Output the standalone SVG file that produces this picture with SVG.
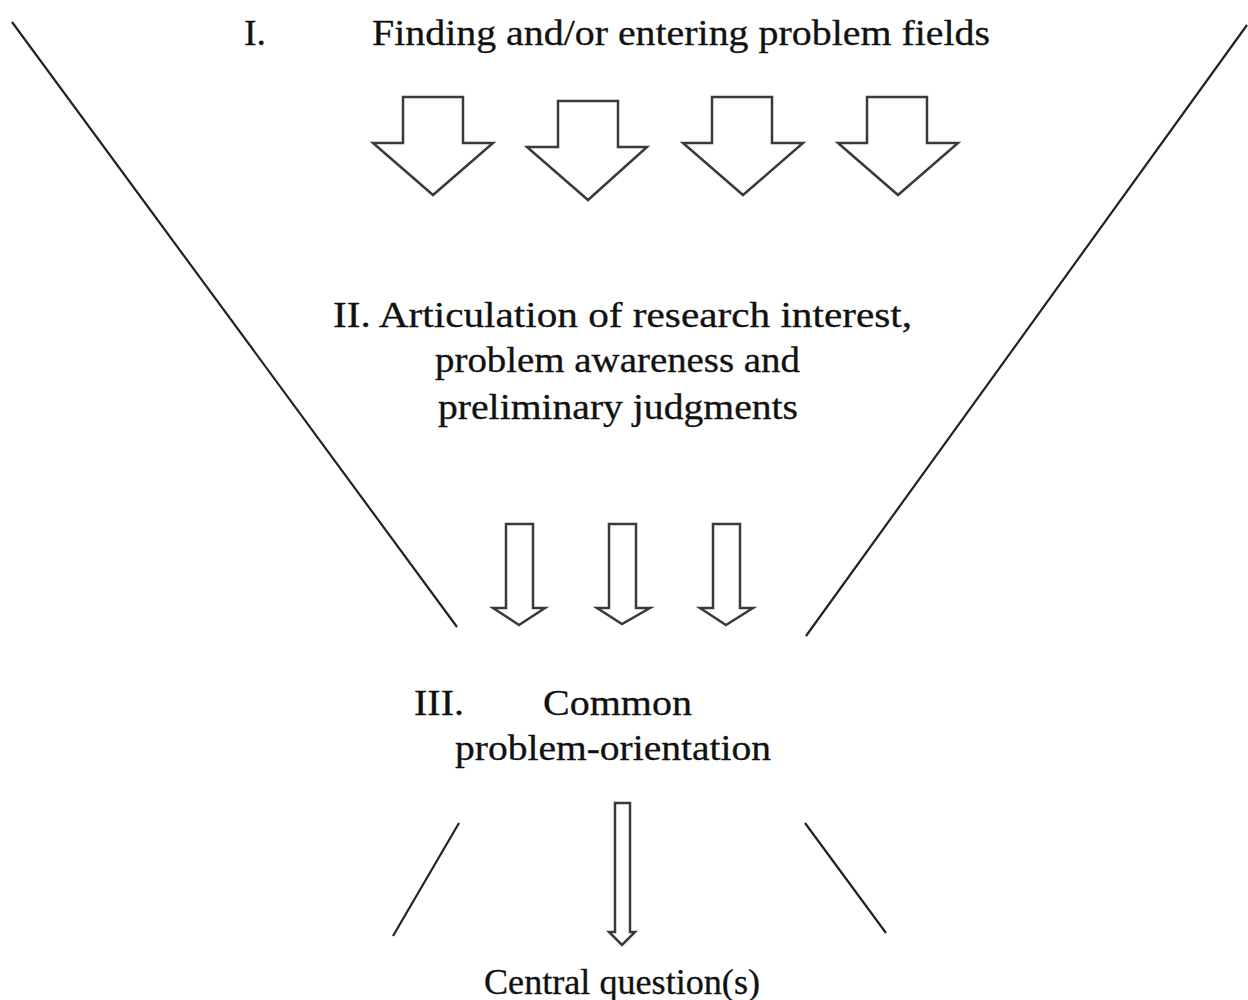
<svg xmlns="http://www.w3.org/2000/svg" width="1248" height="1000" viewBox="0 0 1248 1000">
<style>
.t{font-family:"Liberation Serif","Times New Roman",serif;font-size:35px;fill:#111;stroke:#111;stroke-width:0.3}
.arr{fill:#fff;stroke:#3a3a3a;stroke-width:2.5;stroke-linejoin:miter}
.ln{stroke:#222;stroke-width:2.2;fill:none}
</style>
<rect width="1248" height="1000" fill="#fff"/>
<g id="funnel-lines">
<line class="ln" x1="12" y1="22" x2="457" y2="627"/>
<line class="ln" x1="1247" y1="25" x2="806" y2="636"/>
<line class="ln" x1="459" y1="823" x2="393" y2="936"/>
<line class="ln" x1="805" y1="823" x2="886" y2="933"/>
</g>
<g id="stage1">
<text class="t" x="244" y="45" textLength="22" lengthAdjust="spacingAndGlyphs">I.</text>
<text class="t" x="372" y="45" textLength="618" lengthAdjust="spacingAndGlyphs">Finding and/or entering problem fields</text>
</g>
<g id="stage2">
<text class="t" x="333" y="327" textLength="579" lengthAdjust="spacingAndGlyphs">II. Articulation of research interest,</text>
<text class="t" x="435" y="372" textLength="365" lengthAdjust="spacingAndGlyphs">problem awareness and</text>
<text class="t" x="438" y="419" textLength="360" lengthAdjust="spacingAndGlyphs">preliminary judgments</text>
</g>
<g id="stage3">
<text class="t" x="414" y="715" textLength="50" lengthAdjust="spacingAndGlyphs">III.</text>
<text class="t" x="543" y="715" textLength="149" lengthAdjust="spacingAndGlyphs">Common</text>
<text class="t" x="455" y="760" textLength="316" lengthAdjust="spacingAndGlyphs">problem-orientation</text>
</g>
<g id="result">
<text class="t" x="484" y="994" textLength="276" lengthAdjust="spacingAndGlyphs">Central question(s)</text>
</g>
<g id="connectors">
<polygon class="arr" points="403,97 463,97 463,143 493,143 433,195 373,143 403,143"/>
<polygon class="arr" points="558,101 618,101 618,147 647,147 588,200 527,147 558,147"/>
<polygon class="arr" points="712,97 772,97 772,143 803,143 743,195 683,143 712,143"/>
<polygon class="arr" points="867,97 927,97 927,143 958,143 898,195 838,143 867,143"/>
<polygon class="arr" points="506,524 533,524 533,608 545,608 519,625 493,608 506,608"/>
<polygon class="arr" points="609,524 636,524 636,608 650,608 622,624 597,608 609,608"/>
<polygon class="arr" points="713,524 740,524 740,608 753,608 726,625 700,608 713,608"/>
<polygon class="arr" points="615,803 630,803 630,932 635,932 622,945 609,932 615,932"/>
</g>
</svg>
